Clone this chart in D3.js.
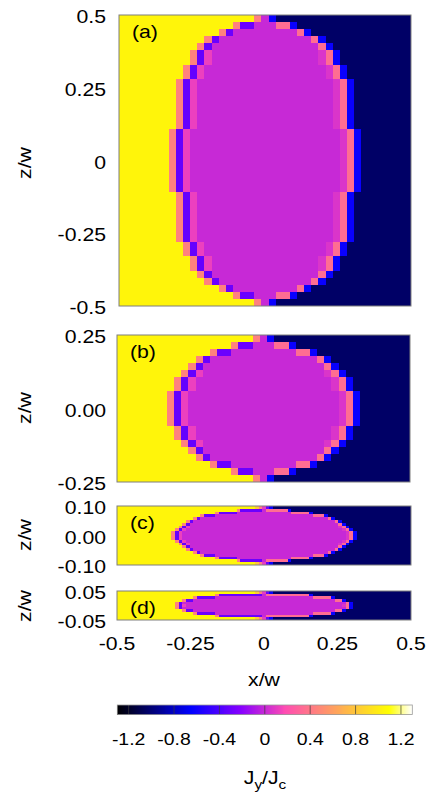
<!DOCTYPE html>
<html><head><meta charset="utf-8">
<script src="https://cdn.jsdelivr.net/npm/d3@7"></script>
<style>
html,body{margin:0;padding:0;background:#fff;}
svg{display:block;font-family:"Liberation Sans",Arial,sans-serif;}
</style></head><body>
<svg id="chart" width="430" height="799"></svg>
<script>
// Cross-section current maps Jy/Jc for four thickness-to-width ratios
const panelNames = ["(a)", "(b)", "(c)", "(d)"];
const panelHalfHeights = [0.5, 0.25, 0.1, 0.05];
const panelCols = [41, 41, 81, 81];
const panelRows = [41, 21, 21, 11];
// first core column of each row, top row to middle row (-1: row has no core)
const coreEdgeA = [19,16,14,12,11,10,10,9,9,8,8,8,8,8,8,8,7,7,7,7,7];
const coreEdgeB = [19,16,13,11,10,9,8,8,7,7,7];
const coreEdgeC = [-1,33,27,23,21,19,18,17,16,15,15];
const coreEdgeD = [-1,27,21,18,16,16];
// saturated zones and the shielded core
const jLeft = 1.04, jRight = -1.04, jCore = 0.0;
// values along the core boundary, outermost cell first
const rimSideLeft = [0.45, -0.32, 0.12];
const rimSideRight = [-0.62, 0.35, 0.06];
const rimTopLeft = [-0.3];
const rimTopRight = [0.35];
// transition across the middle of rows without a core
const splitValues = [0.8, 0.45, 0.1, -0.3, -0.62];
const zTickValues = [[-0.5,-0.25,0,0.25,0.5],[-0.25,0,0.25],[-0.1,0,0.1],[-0.05,0.05]];
const zTickLabels = [["-0.5","-0.25","0","0.25","0.5"],["-0.25","0.00","0.25"],["-0.10","0.00","0.10"],["-0.05","0.05"]];
const xTickValues = [-0.5,-0.25,0,0.25,0.5];
const xTickLabels = ["-0.5","-0.25","0","0.25","0.5"];
const cbTickValues = [-1.2,-0.8,-0.4,0,0.4,0.8,1.2];
const cbTickLabels = ["-1.2","-0.8","-0.4","0","0.4","0.8","1.2"];
const cbRange = [-1.3, 1.3];

const coreEdges = [coreEdgeA, coreEdgeB, coreEdgeC, coreEdgeD];

// panel frames in page pixels
const frames = [
  {x0:119, x1:411, y0:15,  y1:306},
  {x0:117, x1:410, y0:335, y1:482},
  {x0:117, x1:411, y0:506, y1:565},
  {x0:117, x1:411, y0:591, y1:620}
];
const zLabelY = [163, 408, 535, 606];

// black-blue-violet-yellow-white palette (gnuplot rgbformulae 30,31,32)
const clamp = v => Math.max(0, Math.min(1, v));
const cbNorm = d3.scaleLinear().domain(cbRange).range([0, 1]).clamp(true);
function palette(v) {
  const x = cbNorm(v);
  const r = clamp(x / 0.32 - 0.78125);
  const g = clamp(2 * x - 0.84);
  let b;
  if (x < 0.25) b = 4 * x;
  else if (x < 0.42) b = 1;
  else if (x < 0.92) b = -2 * x + 1.84;
  else b = x / 0.08 - 11.5;
  b = clamp(b);
  return d3.rgb(r * 255, g * 255, b * 255).formatHex();
}

// build the cell grid of one panel from its per-row core edges
function buildCells(p) {
  const nc = panelCols[p], nr = panelRows[p], half = coreEdges[p];
  const mid = (nc - 1) / 2;
  const sHalf = (splitValues.length - 1) / 2;
  const edgeOf = j => half[Math.min(j, nr - 1 - j)];
  const inCore = (i, j) => {
    if (j < 0 || j >= nr) return false;
    const L = edgeOf(j);
    return L >= 0 && i >= L && i <= nc - 1 - L;
  };
  const cells = [];
  for (let j = 0; j < nr; j++) {
    const L = edgeOf(j), R = nc - 1 - L;
    for (let i = 0; i < nc; i++) {
      let v;
      if (L < 0) {
        const k = i - mid + sHalf;
        v = k < 0 ? jLeft : k >= splitValues.length ? jRight : splitValues[k];
      } else if (i < L) v = jLeft;
      else if (i > R) v = jRight;
      else {
        let dv = 0;
        while (inCore(i, j - dv - 1) && inCore(i, j + dv + 1)) dv++;
        if (i === mid) {
          v = jCore;
        } else if (i < mid) {
          const dl = i - L;
          if (dl <= dv) v = dl < rimSideLeft.length ? rimSideLeft[dl] : jCore;
          else v = dv < rimTopLeft.length ? rimTopLeft[dv] : jCore;
        } else {
          const dr = R - i;
          if (dr <= dv) v = dr < rimSideRight.length ? rimSideRight[dr] : jCore;
          else v = dv < rimTopRight.length ? rimTopRight[dv] : jCore;
        }
      }
      cells.push({i, j, v});
    }
  }
  return cells;
}

const svg = d3.select("#chart");
const SX = 1.18;

function label(parent, x, y, txt, anchor, size, rotate) {
  return parent.append("text")
    .attr("transform", `translate(${x},${y})` + (rotate ? " rotate(-90)" : "") + ` scale(${SX},1)`)
    .attr("text-anchor", anchor)
    .attr("font-size", size)
    .attr("fill", "#000")
    .text(txt);
}

const defs = svg.append("defs");

frames.forEach((f, p) => {
  const xs = d3.scaleLinear().domain([-0.5, 0.5]).range([f.x0, f.x1]);
  const h = panelHalfHeights[p];
  const zs = d3.scaleLinear().domain([h, -h]).range([f.y0, f.y1]);
  const nc = panelCols[p], nr = panelRows[p];
  const dx = 1 / nc, dz = 2 * h / nr;

  defs.append("clipPath").attr("id", "clip" + p)
    .append("rect").attr("x", f.x0).attr("y", f.y0)
    .attr("width", f.x1 - f.x0).attr("height", f.y1 - f.y0);

  const g = svg.append("g").attr("clip-path", `url(#clip${p})`)
    .attr("shape-rendering", "crispEdges");
  g.selectAll("rect").data(buildCells(p)).join("rect")
    .attr("x", d => xs(-0.5 + d.i * dx))
    .attr("y", d => zs(h - d.j * dz))
    .attr("width", xs(-0.5 + dx) - xs(-0.5) + 1)
    .attr("height", zs(h - dz) - zs(h) + 1)
    .attr("fill", d => palette(d.v));

  svg.append("rect")
    .attr("x", f.x0).attr("y", f.y0)
    .attr("width", f.x1 - f.x0).attr("height", f.y1 - f.y0)
    .attr("fill", "none").attr("stroke", "#7f7f7f").attr("stroke-width", 1);

  // z axis tick labels
  zTickValues[p].forEach((t, k) => {
    label(svg, 106, zs(t) + 8, zTickLabels[p][k], "end", 18);
  });
  label(svg, 25, zLabelY[p], "z/w", "middle", 18, true)
    .attr("dominant-baseline", "central");

  // panel tag
  label(svg, f.x0 + 13, f.y0 + 22.5, panelNames[p], "start", 18);

  if (p === frames.length - 1) {
    xTickValues.forEach((t, k) => {
      label(svg, xs(t), f.y1 + 30, xTickLabels[k], "middle", 18);
    });
    label(svg, xs(0), f.y1 + 66, "x/w", "middle", 18);
  }
});

// colour bar
const cbX = d3.scaleLinear().domain(cbRange).range([117.3, 412.3]);
const cbY0 = 705, cbY1 = 714.5;
const steps = d3.range(0, 300);
svg.append("g").attr("shape-rendering", "crispEdges").selectAll("rect").data(steps).join("rect")
  .attr("x", k => cbX(cbRange[0] + k * (cbRange[1] - cbRange[0]) / 300))
  .attr("y", cbY0)
  .attr("width", (cbX(cbRange[1]) - cbX(cbRange[0])) / 300 + 1)
  .attr("height", cbY1 - cbY0)
  .attr("fill", k => palette(cbRange[0] + (k + 0.5) * (cbRange[1] - cbRange[0]) / 300));
svg.append("g").selectAll("line").data(cbTickValues).join("line")
  .attr("x1", d => cbX(d)).attr("x2", d => cbX(d))
  .attr("y1", cbY0).attr("y2", cbY1)
  .attr("stroke", "#3a3a3a").attr("stroke-opacity", 0.7).attr("stroke-width", 1);
svg.append("rect")
  .attr("x", cbX(cbRange[0])).attr("y", cbY0)
  .attr("width", cbX(cbRange[1]) - cbX(cbRange[0])).attr("height", cbY1 - cbY0)
  .attr("fill", "none").attr("stroke", "#9a9a9a").attr("stroke-width", 0.8);
cbTickValues.forEach((t, k) => {
  label(svg, cbX(t), 745, cbTickLabels[k], "middle", 16.5);
});

// colour bar title J_y/J_c
const title = svg.append("text")
  .attr("transform", `translate(265,784) scale(${SX},1)`)
  .attr("text-anchor", "middle").attr("font-size", 18).attr("fill", "#000");
title.append("tspan").text("J");
title.append("tspan").attr("font-size", 13).attr("dy", 5).text("y");
title.append("tspan").attr("dy", -5).text("/J");
title.append("tspan").attr("font-size", 13).attr("dy", 5).text("c");
</script>
</body></html>
